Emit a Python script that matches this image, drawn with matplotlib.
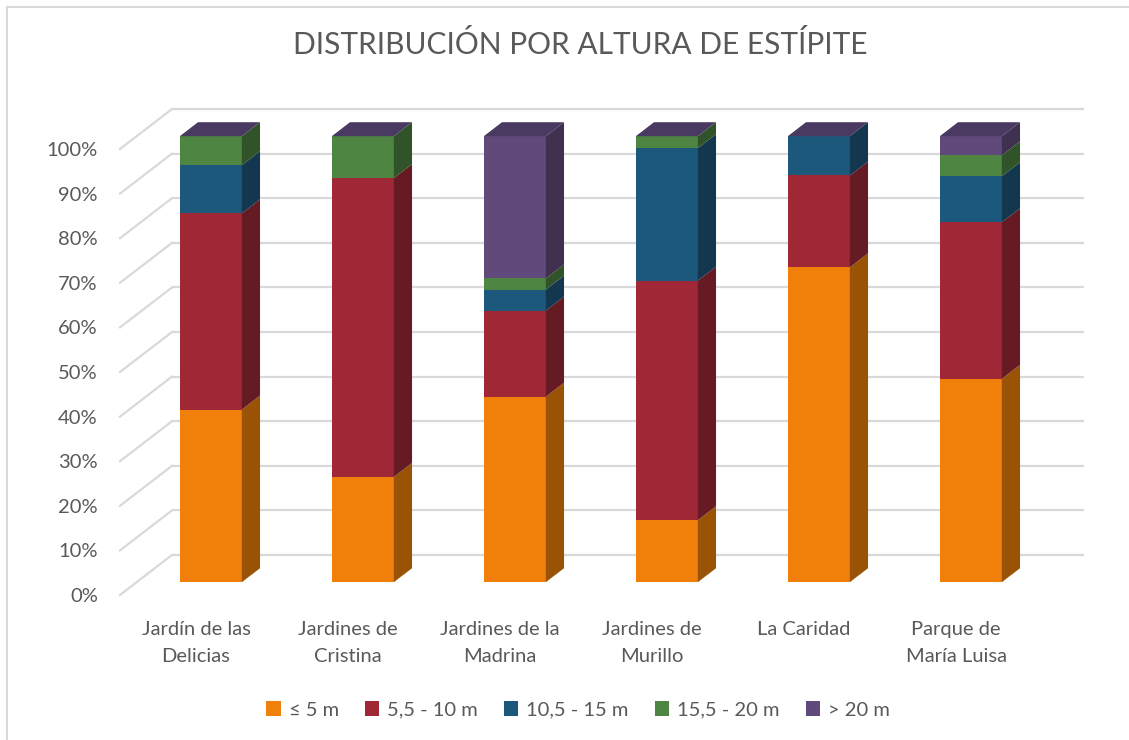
import matplotlib
matplotlib.use("Agg")
import matplotlib.pyplot as plt
from matplotlib.patches import Polygon, Patch
import numpy as np

plt.rcParams['font.family'] = ['Lato', 'DejaVu Sans']

parques = ["Jardín de las\nDelicias", "Jardines de\nCristina", "Jardines de la\nMadrina",
           "Jardines de\nMurillo", "La Caridad", "Parque de\nMaría Luisa"]
series = ["≤ 5 m", "5,5 - 10 m", "10,5 - 15 m", "15,5 - 20 m", "> 20 m"]

# porcentaje de palmeras por rango de altura de estípite
hasta_5 = [38.7, 23.6, 41.6, 13.9, 70.6, 45.6]
de_5_a_10 = [44.0, 67.0, 19.3, 53.7, 20.6, 35.1]
de_10_a_15 = [10.8, 0.0, 4.7, 29.7, 8.8, 10.3]
de_15_a_20 = [6.5, 9.4, 2.5, 2.7, 0.0, 4.7]
mas_de_20 = [0.0, 0.0, 31.9, 0.0, 0.0, 4.3]

front_cols = ["#f0800a", "#a02836", "#1b587c", "#4e8542", "#604a7b"]
side_cols = ["#9a5304", "#661b24", "#12374f", "#30532a", "#3f304f"]
top_col = "#4a3960"
grid_col = "#d9d9d9"
text_col = "#595959"

W, H = 1129, 740
fig = plt.figure(figsize=(W / 100, H / 100), dpi=100)
ax = fig.add_axes([120 / W, 1 - 595 / H, 912 / W, 446 / H])
ax.set_xlim(-0.5, 5.5)
ax.set_ylim(0, 100)
for s in ax.spines.values():
    s.set_visible(False)

# profundidad de la caja 3D en unidades de datos (52 px a la derecha, 40 px arriba)
depth = np.array([52 / 152, 40 / 4.46])

# pared del fondo y lado izquierdo del suelo
for p in range(0, 101, 10):
    ax.plot([-0.5 + depth[0], 5.5 + depth[0]], [p + depth[1]] * 2, color=grid_col,
            lw=1.6, zorder=1, clip_on=False, solid_capstyle='butt')
    ax.plot([-0.5, -0.5 + depth[0]], [p, p + depth[1]], color=grid_col,
            lw=1.6, zorder=1, clip_on=False)

# barras apiladas con cara frontal, lateral y superior
t0, t1 = 0.32, 0.67
f_off = t0 * depth
d_side = (t1 - t0) * depth
bw = 0.408
data = [hasta_5, de_5_a_10, de_10_a_15, de_15_a_20, mas_de_20]
x = np.arange(len(parques))
bottom = np.zeros(len(parques))
for k, vals in enumerate(data):
    vals = np.array(vals)
    ax.bar(x + f_off[0] - 0.012, vals, bottom=bottom + f_off[1], width=bw,
           color=front_cols[k], zorder=3, clip_on=False, linewidth=0)
    for i in range(len(x)):
        if vals[i] <= 0:
            continue
        xr = x[i] + f_off[0] - 0.012 + bw / 2
        y0 = bottom[i] + f_off[1]
        y1 = y0 + vals[i]
        ax.add_patch(Polygon([(xr, y0), (xr, y1), (xr + d_side[0], y1 + d_side[1]),
                              (xr + d_side[0], y0 + d_side[1])],
                             closed=True, fc=side_cols[k], ec='none', zorder=3, clip_on=False))
    bottom += vals

for i in range(len(x)):
    xl = x[i] + f_off[0] - 0.012 - bw / 2
    xr = xl + bw
    yt = bottom[i] + f_off[1]
    ax.add_patch(Polygon([(xl, yt), (xr, yt), (xr + d_side[0], yt + d_side[1]),
                          (xl + d_side[0], yt + d_side[1])],
                         closed=True, fc=top_col, ec='none', zorder=4, clip_on=False))

ax.set_yticks(range(0, 101, 10))
ax.set_yticklabels([f"{p}%" for p in range(0, 101, 10)])
ax.set_xticks(x)
ax.set_xticklabels(parques, linespacing=1.7)
ax.tick_params(axis='y', length=0, pad=16, labelsize=14.5, labelcolor=text_col)
ax.tick_params(axis='x', length=0, pad=19, labelsize=14.5, labelcolor=text_col)

fig.text(580 / W, 1 - 45 / H, "DISTRIBUCIÓN POR ALTURA DE ESTÍPITE", ha='center', va='center',
         fontsize=21.5, color=text_col)

handles = [Patch(facecolor=c, edgecolor='none') for c in front_cols]
fig.legend(handles, series, loc='center', bbox_to_anchor=(578 / W, 1 - 710 / H), ncol=5,
           frameon=False, fontsize=14.5, labelcolor=text_col, handlelength=0.7,
           handleheight=0.7, handletextpad=0.4, columnspacing=1.3)

# marco exterior
fig.add_artist(plt.Line2D([7 / W, 7 / W], [0, 1 - 7 / H], color=grid_col, lw=1.5))
fig.add_artist(plt.Line2D([7 / W, 1], [1 - 7 / H, 1 - 7 / H], color=grid_col, lw=1.5))

fig.savefig("out.png", dpi=100)
